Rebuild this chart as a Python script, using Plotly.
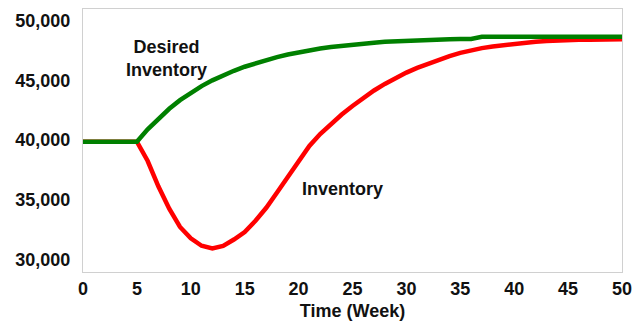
import plotly.graph_objects as go

# Weekly simulation output (units)
weeks = list(range(0, 51))

desired_inventory = [
    39860, 39860, 39860, 39860, 39860, 39860,  # weeks 0-5
    40900, 41810, 42620, 43340, 43970,          # 6-10
    44520, 45000, 45430, 45800, 46140,          # 11-15
    46440, 46710, 46950, 47170, 47360,          # 16-20
    47530, 47670, 47790, 47900, 48000,          # 21-25
    48080, 48160, 48230, 48280, 48320,          # 26-30
    48360, 48390, 48420, 48440, 48460,          # 31-35
    48470, 48650, 48660, 48660, 48660,          # 36-40
    48660, 48660, 48660, 48660, 48660,          # 41-45
    48660, 48660, 48660, 48660, 48660,          # 46-50
]

inventory = [
    39860, 39860, 39860, 39860, 39860, 39860,  # weeks 0-5
    38240, 36100, 34250, 32710, 31760,          # 6-10
    31140, 30920, 31130, 31660, 32290,          # 11-15
    33230, 34320, 35600, 36900, 38240,          # 16-20
    39500, 40500, 41340, 42140, 42850,          # 21-25
    43530, 44150, 44700, 45200, 45650,          # 26-30
    46050, 46410, 46740, 47040, 47300,          # 31-35
    47520, 47700, 47840, 47960, 48090,          # 36-40
    48170, 48240, 48300, 48360, 48380,          # 41-45
    48400, 48410, 48420, 48430, 48440,          # 46-50
]

x_ticks = [0, 5, 10, 15, 20, 25, 30, 35, 40, 45, 50]
y_ticks = [30000, 35000, 40000, 45000, 50000]

FONT = "Liberation Sans, Arial, sans-serif"

fig = go.Figure()

# Inventory first so the desired-inventory line sits on top where they overlap
fig.add_trace(go.Scatter(
    x=weeks, y=inventory, mode="lines", name="Inventory",
    line=dict(color="#FF0000", width=4.5),
))
fig.add_trace(go.Scatter(
    x=weeks, y=desired_inventory, mode="lines", name="Desired Inventory",
    line=dict(color="#008000", width=4.5),
))

fig.add_annotation(
    x=7.7, y=46870, xref="x", yref="y", text="<b>Desired<br>Inventory</b>",
    showarrow=False, align="center",
    font=dict(family=FONT, size=18, color="#111111"),
)
fig.add_annotation(
    x=24.05, y=35870, xref="x", yref="y", text="<b>Inventory</b>",
    showarrow=False,
    font=dict(family=FONT, size=18, color="#111111"),
)

fig.update_layout(
    width=633, height=321,
    margin=dict(l=83, r=11, t=9, b=49),
    paper_bgcolor="white", plot_bgcolor="white",
    showlegend=False,
    font=dict(family=FONT, size=18, color="#111111"),
)

fig.update_xaxes(
    range=[0, 50], tickvals=x_ticks, ticktext=[f"<b>{v}</b>" for v in x_ticks],
    showgrid=False, zeroline=False, automargin=False,
    showline=True, linecolor="#D0D0D0", linewidth=1, mirror=True,
    ticks="", ticklabelstandoff=0,
    title=dict(text="<b>Time (Week)</b>", font=dict(family=FONT, size=18), standoff=6),
)
fig.update_yaxes(
    range=[28940, 50980], tickvals=y_ticks,
    ticktext=[f"<b>{v:,}</b>" for v in y_ticks],
    showgrid=False, zeroline=False, automargin=False,
    showline=True, linecolor="#D0D0D0", linewidth=1, mirror=True,
    ticks="", ticklabelstandoff=8,
)

fig.write_html("out.html")
